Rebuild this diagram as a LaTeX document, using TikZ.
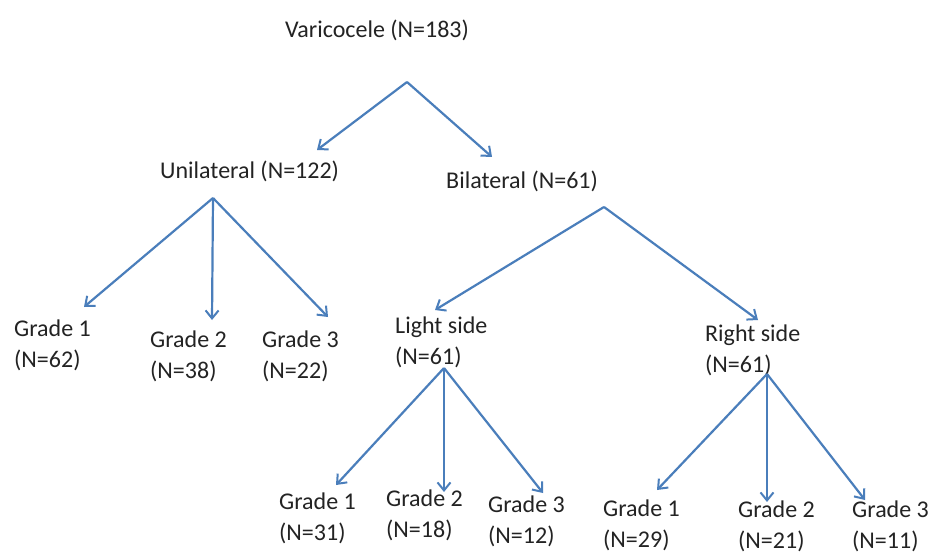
\documentclass[tikz,border=0pt]{standalone}
\usepackage{fontspec}
\setmainfont{Carlito}
\usetikzlibrary{arrows.meta}
\definecolor{arrowblue}{RGB}{74,126,187}
\definecolor{txt}{RGB}{35,35,35}
\begin{document}
\begin{tikzpicture}[x=1pt,y=-1pt,
  lbl/.style={anchor=west,inner sep=0pt,align=left,text=txt,font=\fontsize{24}{31}\selectfont},
  conn/.style={draw=arrowblue,line width=2.2pt,-{Straight Barb[length=8pt,width=13pt,line width=2pt]}}]
\useasboundingbox[fill=white] (0,0) rectangle (929,556);
% nodes
\node[lbl] (root) at (285,30) {Varicocele (N=183)};
\node[lbl] (uni) at (160,171) {Unilateral (N=122)};
\node[lbl] (bi) at (446,181) {Bilateral (N=61)};
\node[lbl] (g1a) at (14,345) {Grade 1\\(N=62)};
\node[lbl] (g2a) at (150,356) {Grade 2\\(N=38)};
\node[lbl] (g3a) at (262,356) {Grade 3\\(N=22)};
\node[lbl] (ls) at (395,342) {Light side\\(N=61)};
\node[lbl] (rs) at (705,350) {Right side\\(N=61)};
\node[lbl] (g1b) at (279,518) {Grade 1\\(N=31)};
\node[lbl] (g2b) at (386,515) {Grade 2\\(N=18)};
\node[lbl] (g3b) at (488,521) {Grade 3\\(N=12)};
\node[lbl] (g1c) at (603,525) {Grade 1\\(N=29)};
\node[lbl] (g2c) at (738,526) {Grade 2\\(N=21)};
\node[lbl] (g3c) at (852,526) {Grade 3\\(N=11)};
% connector end points
\coordinate (root-o) at (407,82);
\coordinate (uni-i) at (317,150);
\coordinate (bi-i) at (492,157);
\coordinate (uni-o) at (213,198);
\coordinate (g1a-i) at (84,307);
\coordinate (g2a-i) at (212,320);
\coordinate (g3a-i) at (328,317);
\coordinate (bi-o) at (604,207);
\coordinate (ls-i) at (435,310);
\coordinate (rs-i) at (758,320);
\coordinate (ls-o) at (444,368);
\coordinate (g1b-i) at (336,485);
\coordinate (g2b-i) at (444,492);
\coordinate (g3b-i) at (543,493);
\coordinate (rs-o) at (767,374);
\coordinate (g1c-i) at (657,490);
\coordinate (g2c-i) at (767,502);
\coordinate (g3c-i) at (865,500);
% connectors
\draw[conn] (root-o) -- (uni-i);
\draw[conn] (root-o) -- (bi-i);
\draw[conn] (uni-o) -- (g1a-i);
\draw[conn] (uni-o) -- (g2a-i);
\draw[conn] (uni-o) -- (g3a-i);
\draw[conn] (bi-o) -- (ls-i);
\draw[conn] (bi-o) -- (rs-i);
\draw[conn] (ls-o) -- (g1b-i);
\draw[conn] (ls-o) -- (g2b-i);
\draw[conn] (ls-o) -- (g3b-i);
\draw[conn] (rs-o) -- (g1c-i);
\draw[conn] (rs-o) -- (g2c-i);
\draw[conn] (rs-o) -- (g3c-i);
\end{tikzpicture}
\end{document}
